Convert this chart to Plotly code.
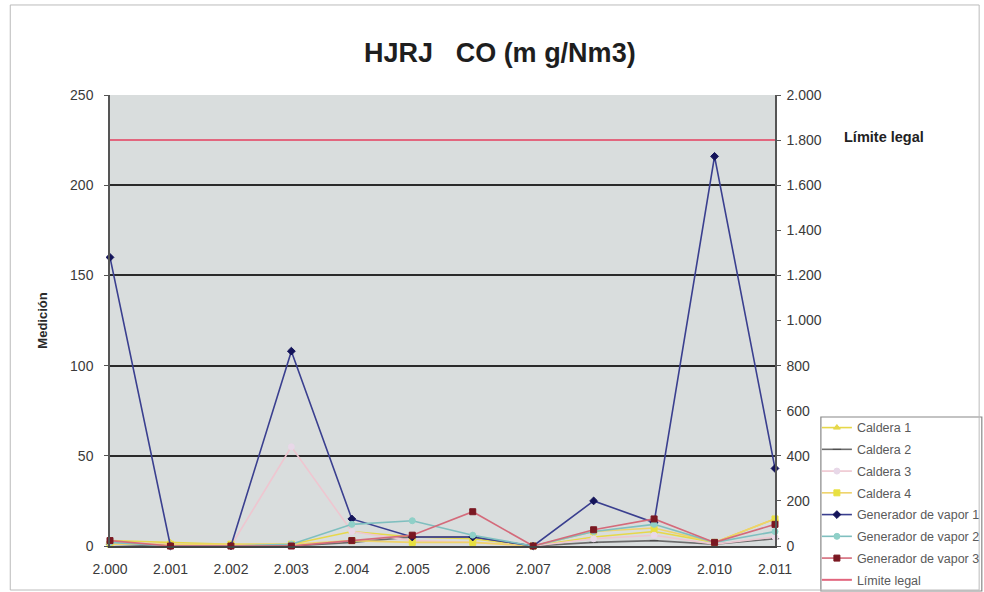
import plotly.graph_objects as go

# Years (x categories) and their dotted labels
years = [2000, 2001, 2002, 2003, 2004, 2005, 2006, 2007, 2008, 2009, 2010, 2011]
year_labels = ["2.000", "2.001", "2.002", "2.003", "2.004", "2.005",
               "2.006", "2.007", "2.008", "2.009", "2.010", "2.011"]

# CO measurements (mg/Nm3) per source
caldera_1 = [3, 2, 1, 1, 8, 5, 4, 0, 5, 8, 2, 15]
caldera_2 = [1, 0, 0, 0, 2, 5, 5, 0, 2, 3, 1, 4]
caldera_3 = [2, 1, 0, 55, 8, 3, 2, 0, 4, 6, 1, 5]
caldera_4 = [1, 1, 1, 1, 3, 2, 2, 0, 8, 10, 2, 15]
gen_vapor_1 = [160, 0, 0, 108, 15, 5, 5, 0, 25, 13, 216, 43]
gen_vapor_2 = [2, 0, 0, 1, 12, 14, 6, 0, 8, 12, 2, 8]
gen_vapor_3 = [3, 0, 0, 0, 3, 6, 19, 0, 9, 15, 2, 12]
limite_legal = [1800] * 12

# Axis ticks
left_ticks = [0, 50, 100, 150, 200, 250]
right_ticks = [0, 200, 400, 600, 800, 1000, 1200, 1400, 1600, 1800, 2000]
right_labels = ["0", "200", "400", "600", "800", "1.000", "1.200",
                "1.400", "1.600", "1.800", "2.000"]

FONT = "Liberation Sans, Arial, sans-serif"
TICK_FONT = dict(family=FONT, size=14, color="#3a3a3a")

series = [
    ("Caldera 1", caldera_1, "#e6d84a", "#e6d84a", "triangle-up"),
    ("Caldera 2", caldera_2, "#6b6b6b", "#4a4a4a", "line-ew"),
    ("Caldera 3", caldera_3, "#eec6d0", "#e8d8e8", "circle"),
    ("Caldera 4", caldera_4, "#efd36a", "#e8e040", "square"),
    ("Generador de vapor 1", gen_vapor_1, "#3a3f8f", "#14145a", "diamond"),
    ("Generador de vapor 2", gen_vapor_2, "#7fbfbf", "#8fd0c8", "circle"),
    ("Generador de vapor 3", gen_vapor_3, "#d46a7a", "#7a1822", "square"),
]

fig = go.Figure()
for name, vals, lc, mc, sym in series:
    fig.add_trace(go.Scatter(
        x=years, y=vals, name=name, legendgroup=name, mode="lines+markers",
        line=dict(color=lc, width=1.6),
        marker=dict(color=mc, size=6, symbol=sym,
                    line=dict(color=mc, width=1)),
        cliponaxis=False,
    ))

fig.add_trace(go.Scatter(
    x=years, y=limite_legal, name="Límite legal", legendgroup="limite",
    mode="lines", line=dict(color="#e2667e", width=2), yaxis="y2",
))

fig.update_layout(
    width=984, height=592,
    margin=dict(l=110, r=209, t=95, b=46, autoexpand=False),
    paper_bgcolor="white",
    plot_bgcolor="#d9dddd",
    font=dict(family=FONT, size=11, color="#333333"),
    title=dict(text="<b>HJRJ   CO (m g/Nm3)</b>", x=0.508, xanchor="center",
               y=0.912, yanchor="middle",
               font=dict(family=FONT, size=27, color="#1e1e1e")),
    xaxis=dict(range=[2000, 2011], tickvals=years, ticktext=year_labels,
               showgrid=False, showline=True, linecolor="#444444",
               linewidth=1.5, ticks="", zeroline=False,
               ticklabelstandoff=9, tickfont=TICK_FONT),
    yaxis=dict(range=[0, 250], tickvals=left_ticks,
               showgrid=True, gridcolor="#2a2a2a", gridwidth=1.6,
               showline=True, linecolor="#555555", linewidth=1.5,
               ticks="outside", ticklen=4, tickcolor="#555555",
               zeroline=False, ticklabelstandoff=8,
               title=dict(text="<b>Medición</b>", standoff=20,
                          font=dict(family=FONT, size=13, color="#2a2a2a")),
               tickfont=TICK_FONT),
    yaxis2=dict(range=[0, 2000], tickvals=right_ticks, ticktext=right_labels,
                overlaying="y", side="right", showgrid=False,
                showline=True, linecolor="#555555", linewidth=1.5,
                ticks="outside", ticklen=4, tickcolor="#555555",
                zeroline=False, ticklabelstandoff=3, tickfont=TICK_FONT),
    legend=dict(x=1.063, y=0.295, xanchor="left", yanchor="top",
                bgcolor="rgba(0,0,0,0)", borderwidth=0,
                font=dict(family=FONT, size=12.5, color="#5a5a5a"),
                tracegroupgap=2.5, itemwidth=30),
    showlegend=True,
)

fig.add_annotation(text="<b>Límite legal</b>", xref="paper", yref="y2",
                   x=1.101, y=1800, yshift=3, xanchor="left", yanchor="middle",
                   showarrow=False, font=dict(family=FONT, size=14.5, color="#222222"))

# Legend frame
fig.add_shape(type="rect", xref="paper", yref="paper",
              x0=1.069, x1=1.311, y0=-0.0998, y1=0.286,
              line=dict(color="#888888", width=1.2), fillcolor="white",
              layer="below")

# Chart area frame
fig.add_shape(type="rect", xref="paper", yref="paper",
              x0=-0.150, x1=1.307, y0=-0.0976, y1=1.1996,
              line=dict(color="#bbbbbb", width=1), layer="below")

fig.write_html("out.html")
